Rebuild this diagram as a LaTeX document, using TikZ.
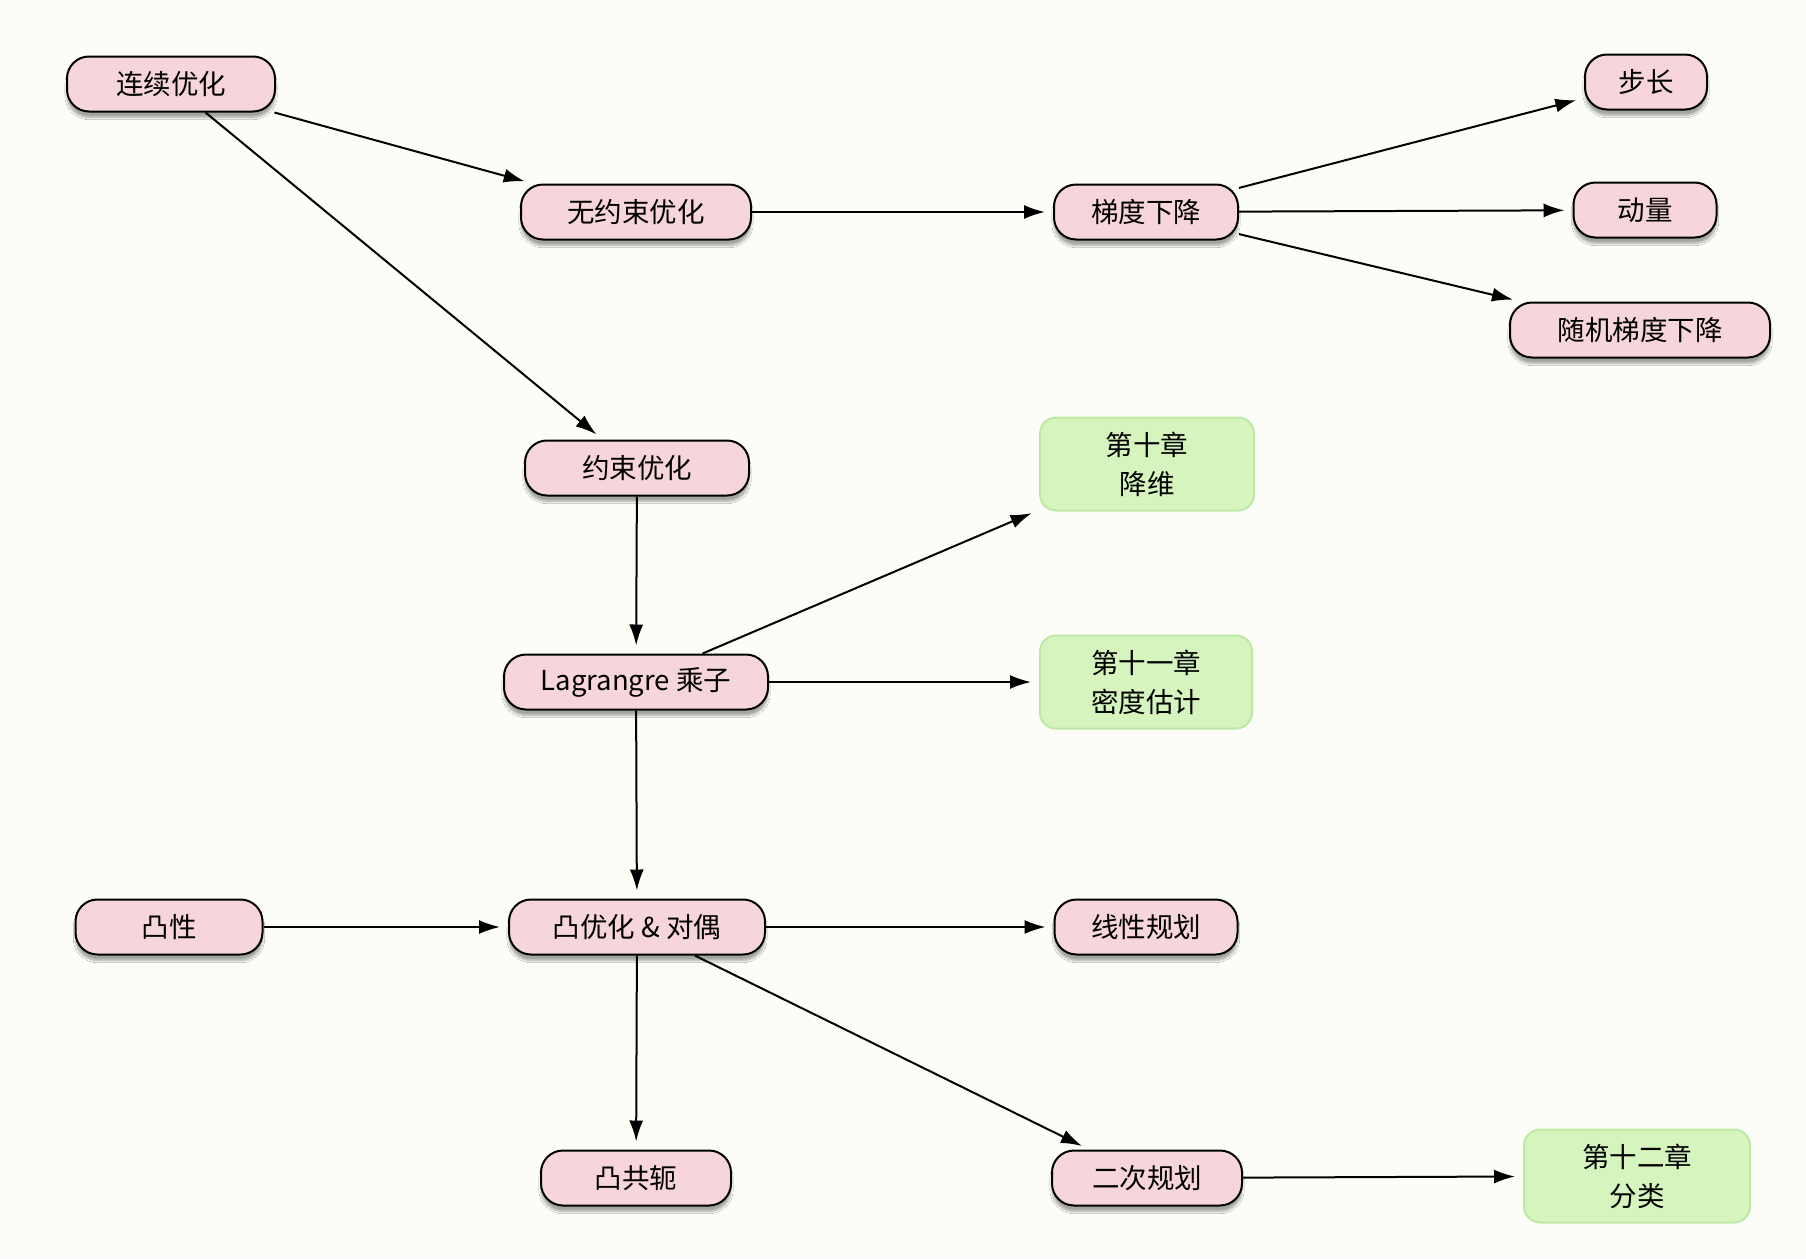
\documentclass[tikz,border=0pt]{standalone}
\usepackage{fontspec}
\setmainfont{Noto Sans CJK SC}
\usetikzlibrary{arrows.meta,shadows.blur}
\definecolor{bgc}{RGB}{253,253,247}
\definecolor{pinkf}{RGB}{246,214,218}
\definecolor{greenf}{RGB}{214,245,190}
\definecolor{greenb}{RGB}{190,232,165}
\tikzset{
  pill/.style={draw=black, line width=2pt, fill=pinkf, rounded corners=22pt,
    minimum height=55pt, inner sep=0pt, font=\fontsize{27.5}{32}\selectfont,
    blur shadow={shadow xshift=0pt, shadow yshift=-6pt, shadow blur steps=8, shadow opacity=35}},
  chap/.style={draw=greenb, line width=2pt, fill=greenf, rounded corners=16pt,
    minimum height=93pt, inner sep=0pt, align=center, font=\fontsize{27.5}{39}\selectfont},
  arr/.style={line width=2pt, -{Latex[length=21pt,width=14pt]}, shorten >=8pt}
}
\begin{document}
\begin{tikzpicture}[x=1pt,y=-1pt]
\fill[bgc] (0,0) rectangle (1806,1258);
\useasboundingbox (0,0) rectangle (1806,1258);
\node[pill, minimum width=208pt] (lx) at (171,84) {连续优化};
\node[pill, minimum width=230pt] (wys) at (636,212) {无约束优化};
\node[pill, minimum width=184pt] (tdxj) at (1146,212) {梯度下降};
\node[pill, minimum width=122pt] (bc) at (1646,82) {步长};
\node[pill, minimum width=143pt] (dl) at (1645,210) {动量};
\node[pill, minimum width=260pt] (sj) at (1640,330) {随机梯度下降};
\node[pill, minimum width=224pt] (ys) at (637,468) {约束优化};
\node[chap, minimum width=214pt] (c10) at (1147,464) {第十章\\降维};
\node[pill, minimum width=264pt] (lag) at (636,682) {Lagrangre 乘子};
\node[chap, minimum width=212pt] (c11) at (1146,682) {第十一章\\密度估计};
\node[pill, minimum width=187pt] (tx) at (169,927) {凸性};
\node[pill, minimum width=256pt] (tyh) at (637,927) {凸优化 \& 对偶};
\node[pill, minimum width=183pt] (xx) at (1146,927) {线性规划};
\node[pill, minimum width=190pt] (tgj) at (636,1178) {凸共轭};
\node[pill, minimum width=190pt] (ec) at (1147,1178) {二次规划};
\node[chap, minimum width=226pt] (c12) at (1637,1176) {第十二章\\分类};
\draw[arr] (lx) -- (wys);
\draw[arr] (lx) -- (ys);
\draw[arr] (wys) -- (tdxj);
\draw[arr] (tdxj) -- (bc);
\draw[arr] (tdxj) -- (dl);
\draw[arr] (tdxj) -- (sj);
\draw[arr] (ys) -- (lag);
\draw[arr] (lag) -- (c10);
\draw[arr] (lag) -- (c11);
\draw[arr] (lag) -- (tyh);
\draw[arr] (tx) -- (tyh);
\draw[arr] (tyh) -- (xx);
\draw[arr] (tyh) -- (tgj);
\draw[arr] (tyh) -- (ec);
\draw[arr] (ec) -- (c12);
\end{tikzpicture}
\end{document}
